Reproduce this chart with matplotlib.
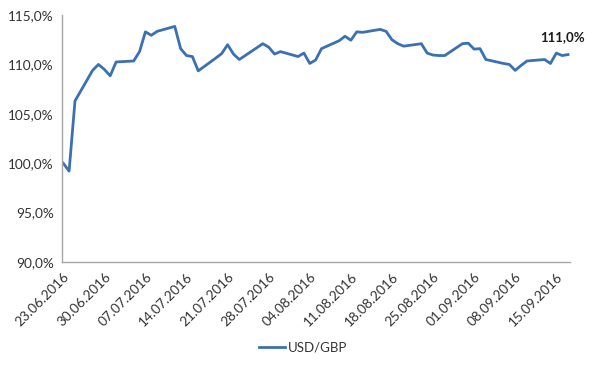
import matplotlib
matplotlib.use('Agg')
import matplotlib.pyplot as plt
import matplotlib.dates as mdates
import pandas as pd
from matplotlib.ticker import FuncFormatter

# USD/GBP, index (23.06.2016 = 100%)
dates = ['23.06.2016', '24.06.2016', '25.06.2016',
         '28.06.2016', '29.06.2016', '30.06.2016', '01.07.2016', '02.07.2016',
         '05.07.2016', '06.07.2016', '07.07.2016', '08.07.2016', '09.07.2016',
         '12.07.2016', '13.07.2016', '14.07.2016', '15.07.2016', '16.07.2016',
         '19.07.2016', '20.07.2016', '21.07.2016', '22.07.2016', '23.07.2016',
         '26.07.2016', '27.07.2016', '28.07.2016', '29.07.2016', '30.07.2016',
         '02.08.2016', '03.08.2016', '04.08.2016', '05.08.2016', '06.08.2016',
         '09.08.2016', '10.08.2016', '11.08.2016', '12.08.2016', '13.08.2016',
         '16.08.2016', '17.08.2016', '18.08.2016', '19.08.2016', '20.08.2016',
         '23.08.2016', '24.08.2016', '25.08.2016', '26.08.2016', '27.08.2016',
         '30.08.2016', '31.08.2016', '01.09.2016', '02.09.2016', '03.09.2016',
         '06.09.2016', '07.09.2016', '08.09.2016', '09.09.2016', '10.09.2016',
         '13.09.2016', '14.09.2016', '15.09.2016', '16.09.2016', '17.09.2016']
usd_gbp = [100.0, 99.2, 106.3,
           109.4, 110.0, 109.5, 108.85, 110.25,
           110.35, 111.3, 113.3, 112.95, 113.35,
           113.85, 111.6, 110.9, 110.8, 109.35,
           110.65, 111.1, 112.0, 111.05, 110.5,
           111.7, 112.1, 111.75, 111.05, 111.3,
           110.8, 111.15, 110.1, 110.45, 111.6,
           112.4, 112.85, 112.45, 113.3, 113.25,
           113.55, 113.35, 112.5, 112.1, 111.85,
           112.1, 111.15, 110.95, 110.9, 110.9,
           112.1, 112.15, 111.55, 111.6, 110.5,
           110.1, 110.0, 109.4, 109.9, 110.35,
           110.5, 110.1, 111.15, 110.9, 111.0]
tick_dates = ['23.06.2016', '30.06.2016', '07.07.2016', '14.07.2016', '21.07.2016',
              '28.07.2016', '04.08.2016', '11.08.2016', '18.08.2016', '25.08.2016',
              '01.09.2016', '08.09.2016', '15.09.2016']
series_name = 'USD/GBP'

x = pd.to_datetime(dates, format='%d.%m.%Y')
ticks = pd.to_datetime(tick_dates, format='%d.%m.%Y')

plt.rcParams['font.family'] = ['Lato', 'DejaVu Sans']
fig = plt.figure(figsize=(5.94, 3.67), dpi=100)
ax = fig.add_axes([0.1044, 0.286, 0.8552, 0.673])

blue = '#3b70b3'
ax.plot(x, usd_gbp, color=blue, lw=2.0, label=series_name, solid_joinstyle='round')

ax.annotate('{:.1f}%'.format(usd_gbp[-1]).replace('.', ','), (x[-1], usd_gbp[-1]),
            xytext=(-4, 8), textcoords='offset points', ha='center', va='bottom',
            fontsize=9.5, fontweight='bold', color='#1a1a1a')

ax.set_ylim(90, 115)
ax.set_yticks(range(90, 116, 5))
ax.yaxis.set_major_formatter(FuncFormatter(lambda v, p: '{:.1f}%'.format(v).replace('.', ',')))
ax.set_xlim(x[0] - pd.Timedelta(hours=5), x[-1] + pd.Timedelta(hours=8))
ax.set_xticks(ticks)
ax.xaxis.set_major_formatter(mdates.DateFormatter('%d.%m.%Y'))
for lbl in ax.get_xticklabels():
    lbl.set_rotation(45)
    lbl.set_ha('right')
    lbl.set_va('top')
    lbl.set_rotation_mode('anchor')

ax.tick_params(length=0, labelsize=9.8, labelcolor='#333333')
ax.tick_params(axis='y', pad=6)
ax.tick_params(axis='x', pad=6)
for s in ['top', 'right']:
    ax.spines[s].set_visible(False)
for s in ['left', 'bottom']:
    ax.spines[s].set_color('#a6a6a6')
    ax.spines[s].set_linewidth(1.0)

fig.legend(loc='center', bbox_to_anchor=(0.51, 0.053), frameon=False,
           fontsize=9.5, handlelength=2.0, handletextpad=0.2,
           labelcolor='#333333')

fig.savefig('out.png', dpi=100)
